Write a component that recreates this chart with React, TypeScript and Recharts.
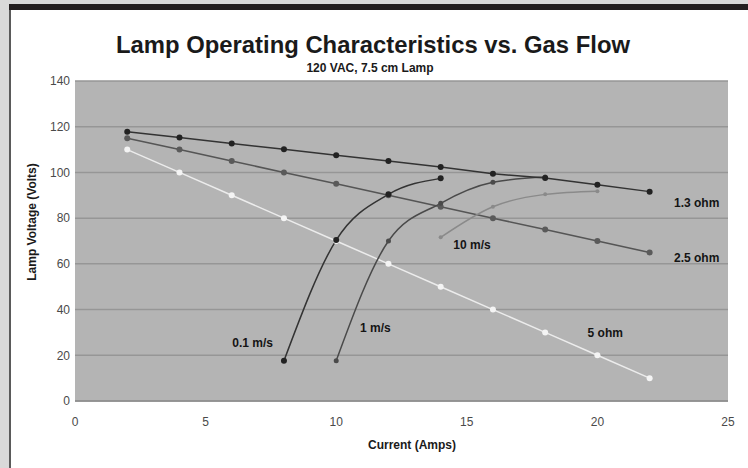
import React from "react";
import { LineChart, Line, XAxis, YAxis, CartesianGrid, ReferenceDot } from "recharts";

// ---- data ----
const currents = [2, 4, 6, 8, 10, 12, 14, 16, 18, 20, 22];
const ohm13Volts = [117.8, 115.3, 112.7, 110.1, 107.5, 105, 102.4, 99.4, 97.6, 94.6, 91.6];
const ohm25Volts = [115, 110, 105, 100, 95, 90, 85, 80, 75, 70, 65];
const ohm5Volts = [110, 100, 90, 80, 70, 60, 50, 40, 30, 20, 10];

const flow01Current = [8, 10, 12, 14];
const flow01Volts = [17.6, 70.4, 90.4, 97.4];
const flow1Current = [10, 12, 14, 16, 18];
const flow1Volts = [17.6, 70, 86.5, 95.7, 98];
const flow10Current = [14, 16, 18, 20];
const flow10Volts = [71.6, 85, 90.4, 91.8];

const xTicks = [0, 5, 10, 15, 20, 25];
const yTicks = [0, 20, 40, 60, 80, 100, 120, 140];

const labelTexts = ["1.3 ohm", "2.5 ohm", "5 ohm", "10 m/s", "0.1 m/s", "1 m/s"];
const labelX = [23.8, 23.8, 20.3, 15.2, 6.8, 11.5];
const labelY = [86.8, 62.6, 29.8, 68.3, 25.4, 31.9];

const titleText = "Lamp Operating Characteristics vs. Gas Flow";
const subtitleText = "120 VAC, 7.5 cm Lamp";
const xTitle = "Current (Amps)";
const yTitle = "Lamp Voltage (Volts)";

const zip = (xs: number[], ys: number[]) => xs.map((x, i) => ({ x, y: ys[i] }));

const FONT = "'Liberation Sans', Arial, Helvetica, sans-serif";

export default function App() {
  const ohm13 = zip(currents, ohm13Volts);
  const ohm25 = zip(currents, ohm25Volts);
  const ohm5 = zip(currents, ohm5Volts);
  const f01 = zip(flow01Current, flow01Volts);
  const f1 = zip(flow1Current, flow1Volts);
  const f10 = zip(flow10Current, flow10Volts);

  return (
    <div
      style={{
        position: "absolute",
        left: 0,
        top: 0,
        width: 748,
        height: 468,
        background: "#d9d9d9",
        overflow: "hidden",
        fontFamily: FONT,
      }}
    >
      <div style={{ position: "absolute", left: 9, top: 4, width: 739, height: 6, background: "#231f20" }} />
      <div style={{ position: "absolute", left: 9, top: 10, width: 2, height: 458, background: "#5a5a5a" }} />
      <div style={{ position: "absolute", left: 11, top: 10, width: 737, height: 458, background: "#ffffff" }} />
      <div style={{ position: "absolute", left: 0, top: 0 }}>
        <LineChart
          width={748}
          height={468}
          margin={{ top: 81, right: 20, bottom: 37, left: 15 }}
          style={{ fontFamily: FONT }}
        >
          <CartesianGrid
            vertical={false}
            horizontal={true}
            fill="#b4b4b4"
            stroke="#969696"
            strokeWidth={1.5}
          />
          <XAxis
            type="number"
            dataKey="x"
            domain={[0, 25]}
            ticks={xTicks}
            allowDataOverflow
            height={30}
            tickLine={false}
            tickSize={0}
            tickMargin={16}
            axisLine={{ stroke: "#8f8f8f", strokeWidth: 1.5 }}
            tick={{ fill: "#4a4a4a", fontSize: 12, fontFamily: FONT }}
          />
          <YAxis
            type="number"
            dataKey="y"
            domain={[0, 140]}
            ticks={yTicks}
            allowDataOverflow
            width={60}
            tickLine={false}
            tickSize={0}
            tickMargin={5}
            axisLine={false}
            tick={{ fill: "#4a4a4a", fontSize: 12, fontFamily: FONT }}
          />
          <Line
            data={ohm5}
            dataKey="y"
            type="linear"
            stroke="#ececec"
            strokeWidth={1.5}
            dot={{ r: 3, fill: "#f4f4f4", stroke: "#f4f4f4", strokeWidth: 0 }}
            isAnimationActive={false}
          />
          <Line
            data={ohm25}
            dataKey="y"
            type="linear"
            stroke="#555555"
            strokeWidth={1.5}
            dot={{ r: 3, fill: "#5a5a5a", stroke: "#5a5a5a", strokeWidth: 0 }}
            isAnimationActive={false}
          />
          <Line
            data={f10}
            dataKey="y"
            type="monotone"
            stroke="#8a8a8a"
            strokeWidth={1.5}
            dot={{ r: 2, fill: "#8a8a8a", stroke: "#8a8a8a", strokeWidth: 0 }}
            isAnimationActive={false}
          />
          <Line
            data={f1}
            dataKey="y"
            type="monotone"
            stroke="#4a4a4a"
            strokeWidth={1.5}
            dot={{ r: 2.5, fill: "#4a4a4a", stroke: "#4a4a4a", strokeWidth: 0 }}
            isAnimationActive={false}
          />
          <Line
            data={f01}
            dataKey="y"
            type="monotone"
            stroke="#333333"
            strokeWidth={1.5}
            dot={{ r: 3, fill: "#222222", stroke: "#222222", strokeWidth: 0 }}
            isAnimationActive={false}
          />
          <Line
            data={ohm13}
            dataKey="y"
            type="linear"
            stroke="#333333"
            strokeWidth={1.5}
            dot={{ r: 3, fill: "#222222", stroke: "#222222", strokeWidth: 0 }}
            isAnimationActive={false}
          />
          {labelTexts.map((t, i) => (
            <ReferenceDot
              key={t}
              x={labelX[i]}
              y={labelY[i]}
              r={0}
              fill="none"
              stroke="none"
              ifOverflow="visible"
              label={{
                value: t,
                position: "center",
                fill: "#141414",
                fontSize: 12,
                fontWeight: "bold",
                fontFamily: FONT,
              }}
            />
          ))}
        </LineChart>
      </div>
      <svg
        width={748}
        height={468}
        style={{ position: "absolute", left: 0, top: 0, pointerEvents: "none" }}
      >
        <text
          x={373}
          y={44}
          textAnchor="middle"
          dominantBaseline="central"
          fontFamily={FONT}
          fontWeight="bold"
          fontSize={24}
          fill="#1a1a1a"
          textLength={514}
          lengthAdjust="spacingAndGlyphs"
        >
          {titleText}
        </text>
        <text
          x={370}
          y={68}
          textAnchor="middle"
          dominantBaseline="central"
          fontFamily={FONT}
          fontWeight="bold"
          fontSize={12}
          fill="#1a1a1a"
        >
          {subtitleText}
        </text>
        <text
          x={412}
          y={445}
          textAnchor="middle"
          dominantBaseline="central"
          fontFamily={FONT}
          fontWeight="bold"
          fontSize={12}
          fill="#1a1a1a"
        >
          {xTitle}
        </text>
        <text
          x={32}
          y={222}
          textAnchor="middle"
          dominantBaseline="central"
          fontFamily={FONT}
          fontWeight="bold"
          fontSize={12}
          fill="#1a1a1a"
          transform="rotate(-90 32 222)"
        >
          {yTitle}
        </text>
      </svg>
    </div>
  );
}
